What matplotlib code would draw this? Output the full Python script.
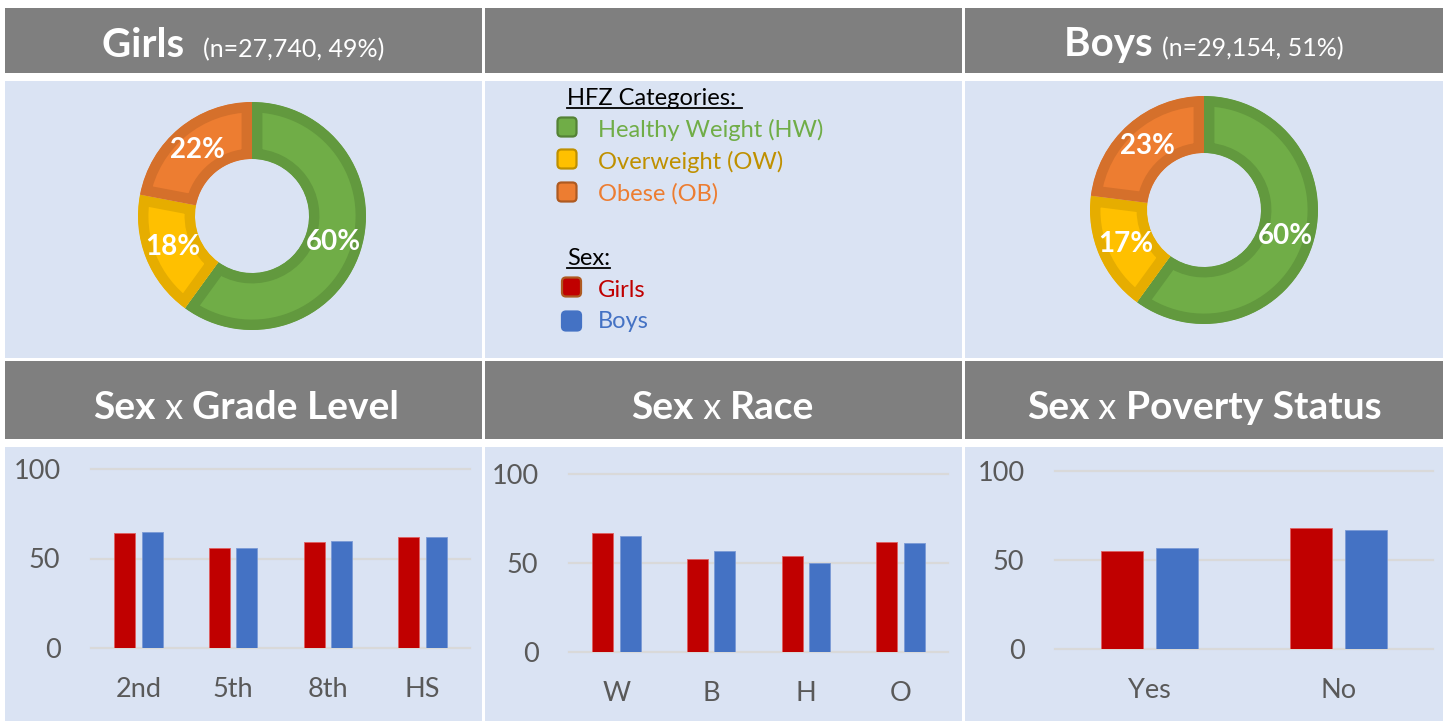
import matplotlib
matplotlib.use('Agg')
import matplotlib.pyplot as plt
import numpy as np
from matplotlib.patches import Rectangle, FancyBboxPatch

plt.rcParams['font.family'] = ['Lato', 'DejaVu Sans']

W, H = 1448, 721

# donut data (HW, OW, OB)
hfz_labels = ['Healthy Weight (HW)', 'Overweight (OW)', 'Obese (OB)']
girls_hfz = [60, 18, 22]
boys_hfz = [60, 17, 23]

# bar data (% healthy weight)
grade_labels = ['2nd', '5th', '8th', 'HS']
grade_girls = [64, 56, 59, 62]
grade_boys = [65, 56, 60, 62]

race_labels = ['W', 'B', 'H', 'O']
race_girls = [67, 52, 54, 62]
race_boys = [65, 57, 50, 61]

poverty_labels = ['Yes', 'No']
poverty_girls = [55, 68]
poverty_boys = [57, 67]

hfz_fill = ['#70ad47', '#ffc000', '#ed7d31']
hfz_edge = ['#62993e', '#e6ad00', '#d5702b']
hfz_text = ['#70ad47', '#bf9000', '#ed7d31']
girl_col = '#c00000'
boy_col = '#4472c4'
gray = '#7f7f7f'
panel = '#dae3f3'
tick_col = '#595959'

fig = plt.figure(figsize=(W / 100, H / 100), dpi=100)
fig.patch.set_facecolor('white')

# background canvas in pixel units
bg = fig.add_axes([0, 0, 1, 1], zorder=-1)
bg.set_xlim(0, W)
bg.set_ylim(H, 0)
bg.axis('off')

cols = [(5, 482), (485, 962), (965, 1443)]
for x0, x1 in cols:
    bg.add_patch(Rectangle((x0, 8), x1 - x0, 65, color=gray, lw=0))
    bg.add_patch(Rectangle((x0, 81), x1 - x0, 277, color=panel, lw=0))
    bg.add_patch(Rectangle((x0, 361), x1 - x0, 78, color=gray, lw=0))
    bg.add_patch(Rectangle((x0, 447), x1 - x0, 280, color=panel, lw=0))

renderer = fig.canvas.get_renderer()


def header(cx, base_y, parts):
    objs = []
    for s, size, weight in parts:
        t = bg.text(0, base_y, s, fontsize=size, fontweight=weight,
                    color='white', va='baseline', ha='left')
        objs.append(t)
    widths = [t.get_window_extent(renderer).width for t in objs]
    x = cx - sum(widths) / 2
    for t, w in zip(objs, widths):
        t.set_x(x)
        x += w


header(243, 57, [('Girls  ', 29, 'bold'), ('(n=27,740, 49%)', 18, 'normal')])
header(1204, 56, [('Boys ', 29, 'bold'), ('(n=29,154, 51%)', 18, 'normal')])
header(246, 419, [('Sex', 28, 'bold'), (' x ', 26, 'normal'), ('Grade Level', 28, 'bold')])
header(723, 419, [('Sex', 28, 'bold'), (' x ', 26, 'normal'), ('Race', 28, 'bold')])
header(1204, 419, [('Sex', 28, 'bold'), (' x ', 26, 'normal'), ('Poverty Status', 28, 'bold')])


# donuts
def donut(cx, cy, r, vals):
    ax = fig.add_axes([(cx - r) / W, 1 - (cy + r) / H, 2 * r / W, 2 * r / H])
    wedges, _, autotexts = ax.pie(vals, colors=hfz_fill, startangle=90, counterclock=False,
                                  radius=1, autopct='%.0f%%', pctdistance=0.75,
                                  wedgeprops=dict(width=0.5, linewidth=15),
                                  textprops=dict(color='white', fontsize=20, fontweight='bold'))
    for w, ec in zip(wedges, hfz_edge):
        w.set_edgecolor(ec)
        w.set_clip_on(True)
        w.set_clip_path(w)
    ax.set_xlim(-1, 1)
    ax.set_ylim(-1, 1)
    ax.axis('off')


donut(252, 216, 114, girls_hfz)
donut(1204, 210, 114, boys_hfz)

# legend in middle panel
def underlined(x, base_y, s):
    t = bg.text(x, base_y, s, fontsize=17, color='black', va='baseline', ha='left')
    bb = t.get_window_extent(renderer)
    bg.plot([x, x + bb.width], [base_y + 3, base_y + 3], color='black', lw=1.3)


underlined(567, 105, 'HFZ Categories: ')
underlined(567, 265, 'Sex:')

item_y = [127, 159, 192]
item_base = [137, 169, 201]
for yc, yb, lab, fc, ec, tc in zip(item_y, item_base, hfz_labels, hfz_fill,
                                   ['#548235', '#bf9000', '#ae5a21'], hfz_text):
    bg.add_patch(FancyBboxPatch((557.5, yc - 9.5), 19, 19,
                                boxstyle='round,pad=0,rounding_size=4',
                                fc=fc, ec=ec, lw=1.6))
    bg.text(598, yb, lab, fontsize=17, color=tc, va='baseline', ha='left')

for yc, yb, lab, fc, ec in zip([287, 321], [297, 328], ['Girls', 'Boys'],
                               [girl_col, boy_col], ['#ae5a21', boy_col]):
    bg.add_patch(FancyBboxPatch((562, yc - 9.5), 19, 19,
                                boxstyle='round,pad=0,rounding_size=4',
                                fc=fc, ec=ec, lw=1.6))
    bg.text(598, yb, lab, fontsize=17, color=fc, va='baseline', ha='left')


# bar charts
def bars(x0, x1, y100, y0, labels, girls, boys):
    ax = fig.add_axes([x0 / W, 1 - y0 / H, (x1 - x0) / W, (y0 - y100) / H])
    ax.set_facecolor('none')
    x = np.arange(len(labels))
    ax.bar(x - 0.145, girls, 0.22, color=girl_col, edgecolor='#e06060', linewidth=0.6, zorder=3)
    ax.bar(x + 0.145, boys, 0.22, color=boy_col, edgecolor='#7a9ad6', linewidth=0.6, zorder=3)
    ax.set_xlim(-0.5, len(labels) - 0.5)
    ax.set_ylim(0, 100)
    ax.set_yticks([0, 50, 100])
    ax.set_xticks(x)
    ax.set_xticklabels(labels)
    ax.yaxis.grid(True, color='#d9d9d9', linewidth=1.6)
    for gl in ax.get_ygridlines():
        gl.set_clip_on(False)
    ax.set_axisbelow(True)
    for sp in ax.spines.values():
        sp.set_visible(False)
    ax.tick_params(axis='both', length=0, labelsize=19.5, labelcolor=tick_col)
    ax.tick_params(axis='y', pad=22)
    ax.tick_params(axis='x', pad=21)


bars(91, 470, 469, 648, grade_labels, grade_girls, grade_boys)
bars(569, 948, 474, 652, race_labels, race_girls, race_boys)
bars(1055, 1433, 471, 649, poverty_labels, poverty_girls, poverty_boys)

fig.savefig('out.png', dpi=100, facecolor='white')
